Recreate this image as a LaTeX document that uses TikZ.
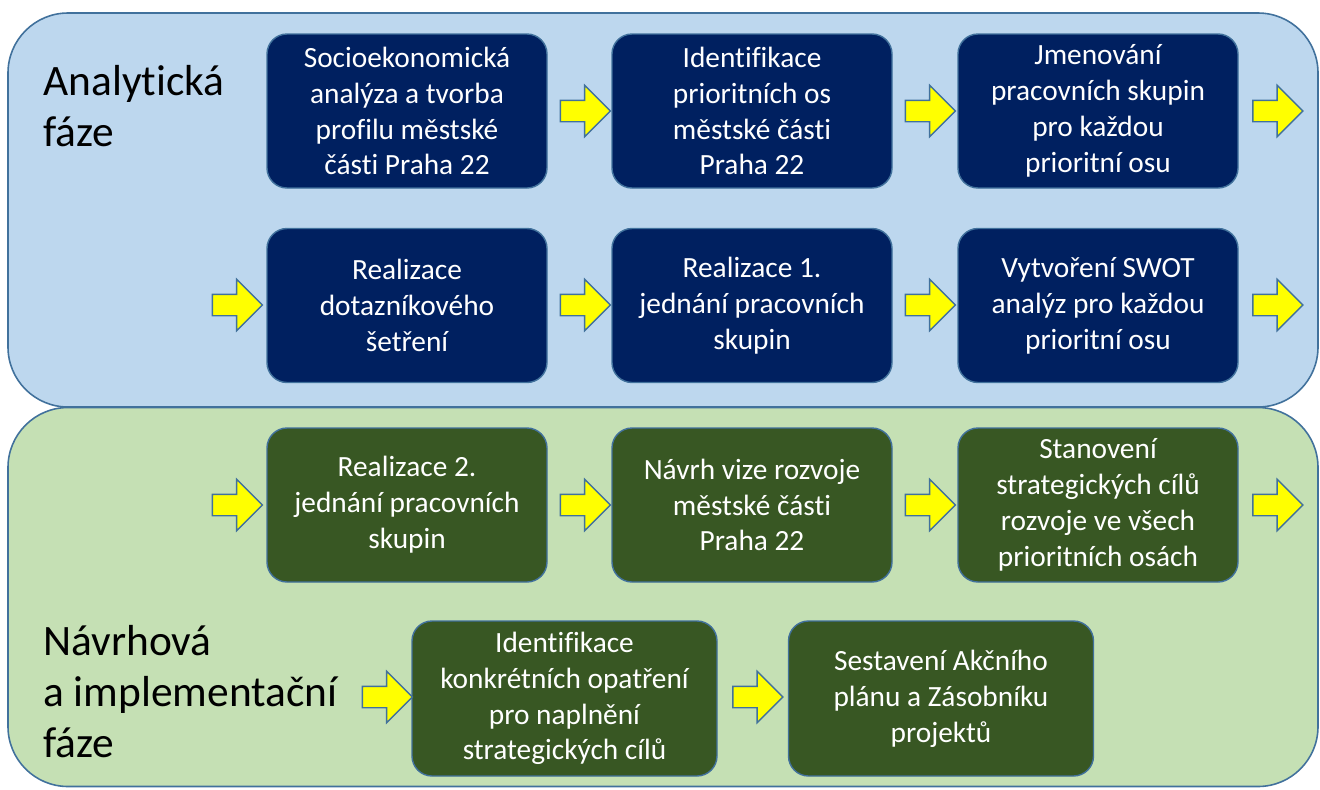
\documentclass[tikz,border=0pt]{standalone}
\usepackage{fontspec}
\setmainfont{Carlito}[Ligatures=NoCommon]
\usepackage{xcolor}
\usetikzlibrary{positioning, shapes.arrows}
\definecolor{navy}{HTML}{002060}
\definecolor{forest}{HTML}{385723}
\definecolor{softblue}{HTML}{BDD7EE}
\definecolor{softgreen}{HTML}{C5E0B4}
\definecolor{edge}{HTML}{41719C}
\definecolor{yel}{HTML}{FFFF00}
\tikzset{
  panel/.style={
    rectangle, rounded corners=1.2cm,
    draw=edge, line width=0.9pt,
    minimum width=26.2cm, inner sep=0pt
  },
  box/.style={
    rectangle, rounded corners=0.4cm,
    draw=edge, line width=0.8pt, text=white,
    minimum width=5.6cm, minimum height=3.08cm,
    align=center, font=\fontsize{16.7}{20.4}\selectfont
  },
  bluebox/.style={box, fill=navy},
  greenbox/.style={box, fill=forest},
  widebox/.style={greenbox, minimum width=6.1cm, minimum height=3.1cm},
  phase/.style={anchor=north west, align=left, inner sep=0pt,
    font=\fontsize{24.7}{29}\selectfont},
  yarrow/.style={
    single arrow, draw=edge, fill=yel, line width=0.8pt,
    inner sep=0.2cm, single arrow head extend=0.3cm,
    minimum height=1cm
  },
}

\begin{document}
\begin{tikzpicture}
  \useasboundingbox (0,0) rectangle (26.4,-15.78);

  \node[panel, fill=softblue, minimum height=7.88cm] (anal) at (13.26,-4.2) {};
  \node[panel, fill=softgreen, minimum height=7.58cm] (navr) at (13.26,-11.94) {};

  \node[phase] (tanal) at (0.86,-1.3) {Analytická\\fáze};
  \node[phase] (tnavr) at (0.86,-12.5) {Návrhová\\a implementační\\fáze};

  % analyticka faze
  \node[bluebox] (soc) at (8.14,-2.22) {Socioekonomická\\analýza a tvorba\\profilu městské\\části Praha 22};
  \node[bluebox] (ident) at (15.04,-2.22) {Identifikace\\prioritních os\\městské části\\Praha 22};
  \node[bluebox] (jmen) at (21.96,-2.22) {Jmenování\\pracovních skupin\\pro každou\\prioritní osu};
  \node[bluebox] (dotaz) at (8.14,-6.11) {Realizace\\dotazníkového\\šetření};
  \node[bluebox] (jedn1) at (15.04,-6.11) {Realizace 1.\\jednání pracovních\\skupin};
  \node[bluebox] (swot) at (21.96,-6.11) {Vytvoření SWOT\\analýz pro každou\\prioritní osu};

  % navrhova a implementacni faze
  \node[greenbox] (jedn2) at (8.14,-10.1) {Realizace 2.\\jednání pracovních\\skupin};
  \node[greenbox] (vize) at (15.04,-10.1) {Návrh vize rozvoje\\městské části\\Praha 22};
  \node[greenbox] (cile) at (21.96,-10.1) {Stanovení\\strategických cílů\\rozvoje ve všech\\prioritních osách};
  \node[widebox] (opat) at (11.29,-13.97) {Identifikace\\konkrétních opatření\\pro naplnění\\strategických cílů};
  \node[widebox] (akce) at (18.82,-13.97) {Sestavení Akčního\\plánu a Zásobníku\\projektů};

  % sipky
  \node[yarrow] (s1) at (11.6,-2.22) {};
  \node[yarrow] (s2) at (18.5,-2.22) {};
  \node[yarrow] (s3) at (25.45,-2.22) {};
  \node[yarrow] (s4) at (4.64,-6.1) {};
  \node[yarrow] (s5) at (11.6,-6.1) {};
  \node[yarrow] (s6) at (18.5,-6.1) {};
  \node[yarrow] (s7) at (25.45,-6.1) {};
  \node[yarrow] (s8) at (4.64,-10.1) {};
  \node[yarrow] (s9) at (11.6,-10.1) {};
  \node[yarrow] (s10) at (18.5,-10.1) {};
  \node[yarrow] (s11) at (25.45,-10.1) {};
  \node[yarrow] (s12) at (7.64,-13.94) {};
  \node[yarrow] (s13) at (15.05,-13.94) {};
\end{tikzpicture}
\end{document}
